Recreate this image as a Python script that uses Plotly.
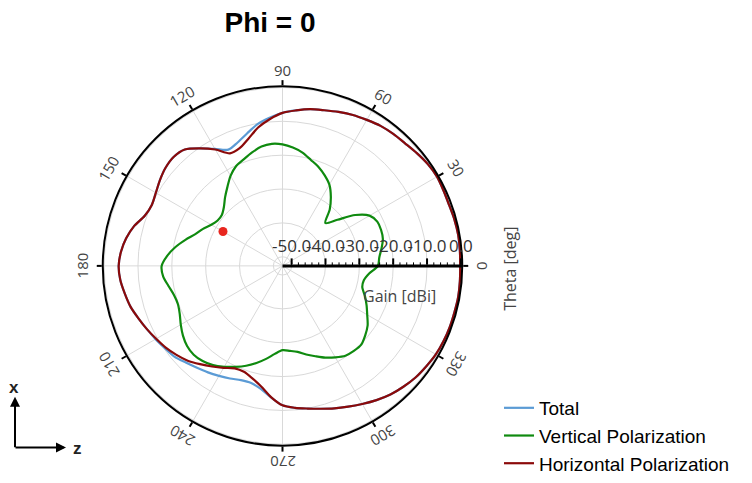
import math
import plotly.graph_objects as go

# ---------------- data ----------------
theta_deg = list(range(0, 360, 5))

horizontal_db = [
    -0.2, -0.1, 0.0, -0.1, -0.3, -0.2, 0.0, -0.3, -0.9, -1.5,      # 0-45
    -1.8, -2.2, -2.9, -3.5, -4.3, -5.1, -5.7, -6.6, -7.5, -9.2,     # 50-95
    -11.2, -13.8, -15.7, -16.0, -13.0, -10.3, -7.8, -7.2, -7.6, -8.5,  # 100-145
    -9.5, -10.1, -9.4, -7.3, -5.8, -4.8, -4.3, -4.6, -5.4, -6.2,    # 150-195
    -7.4, -8.5, -9.6, -10.6, -11.8, -13.1, -14.8, -16.4, -17.9, -19.3,  # 200-245
    -19.4, -18.3, -16.5, -13.8, -11.5, -10.6, -9.9, -9.0, -7.9, -6.8,  # 250-295
    -5.6, -4.3, -3.1, -2.2, -1.4, -0.9, -0.4, -0.2, -0.1, -0.1,     # 300-345
    0.0, -0.1,                                                       # 350-355
]

total_db = [
    -0.2, -0.1, 0.0, -0.1, -0.3, -0.2, 0.0, -0.3, -0.9, -1.5,
    -1.8, -2.2, -2.9, -3.5, -4.3, -5.1, -5.7, -6.6, -7.5, -8.8,
    -10.2, -12.2, -13.9, -14.8, -12.8, -10.3, -7.8, -7.2, -7.6, -8.5,
    -9.5, -10.1, -9.4, -7.3, -5.8, -4.8, -4.3, -4.6, -5.4, -6.2,
    -7.4, -8.5, -9.4, -10.3, -11.0, -12.3, -13.4, -14.3, -15.2, -16.0,
    -16.8, -16.9, -15.8, -13.7, -11.5, -10.6, -9.9, -9.0, -7.9, -6.8,
    -5.6, -4.3, -3.1, -2.2, -1.4, -0.9, -0.4, -0.2, -0.1, -0.1,
    0.0, -0.1,
]

vertical_db = [
    -24.5, -24.0, -23.0, -22.0, -21.7, -21.8, -23.0, -26.5, -31.5, -34.8,  # 0-45
    -31.0, -27.8, -25.0, -23.2, -21.6, -20.3, -18.7, -17.6, -16.8, -16.5,  # 50-95
    -16.9, -18.0, -19.2, -20.2, -22.0, -24.3, -26.3, -28.2, -29.3, -29.3,  # 100-145
    -28.4, -26.8, -25.3, -23.0, -20.6, -18.5, -17.0, -17.3, -18.5, -19.5,  # 150-195
    -19.8, -19.2, -18.0, -16.8, -15.9, -15.6, -16.0, -16.9, -18.3, -19.8,  # 200-245
    -21.3, -23.0, -24.8, -26.6, -27.8, -27.5, -26.9, -25.6, -24.3, -22.8,  # 250-295
    -21.5, -20.3, -19.9, -19.8, -20.8, -22.0, -23.8, -25.3, -26.8, -28.3,  # 300-345
    -28.3, -27.0,                                                          # 350-355
]

marker_theta = [150]
marker_db = [-32.4]

radial_ticks = [-50, -40, -30, -20, -10, 0]
radial_tick_text = ["-50.0", "-40.0", "-30.0", "-20.0", "-10.0", "0.0"]
radial_minor = list(range(-50, 1, 2))
angular_ticks = list(range(0, 360, 30))

series_names = ["Total", "Vertical Polarization", "Horizontal Polarization"]
series_colors = ["#5b9bd5", "#0f8a0f", "#8b0a0a"]

# ---------------- layout geometry ----------------
# the page places the figure 8px in from the left edge
OFF_X, OFF_Y = 8, 4
W, H = 752 - OFF_X, 483 - 8
CX, CY, R = 282.5 - OFF_X, 268.0 - OFF_Y, 184.0
dom_x = [(CX - R) / W, (CX + R) / W]
dom_y = [1 - (CY + R) / H, 1 - (CY - R) / H]
r_range = [-52.7, 0.4]


def px_x(x):
    return (x - OFF_X) / W


def px_y(y):
    return 1 - (y - OFF_Y) / H


def closed(vals):
    return list(vals) + [vals[0]]


th_closed = closed(theta_deg)

fig = go.Figure()
for name, vals, col in zip(series_names, [total_db, vertical_db, horizontal_db], series_colors):
    fig.add_trace(go.Scatterpolar(
        r=closed(vals), theta=th_closed, mode="lines", name=name,
        line=dict(color=col, width=2.2, shape="spline", smoothing=0.8),
        subplot="polar",
    ))

fig.add_trace(go.Scatterpolar(
    r=marker_db, theta=marker_theta, mode="markers", showlegend=False,
    marker=dict(color="#e8261f", size=9), subplot="polar",
))

# overlay subplot only for minor radial ticks
fig.add_trace(go.Scatterpolar(r=[], theta=[], mode="lines", showlegend=False,
                              subplot="polar2", hoverinfo="skip"))

font_ui = "Open Sans, DejaVu Sans, sans-serif"
font_arial = "Liberation Sans, Arial, sans-serif"

fig.update_layout(
    width=W, height=H,
    margin=dict(l=0, r=0, t=0, b=0),
    paper_bgcolor="white",
    title=dict(text="Phi = 0", x=px_x(270), y=px_y(18), xanchor="center", yanchor="middle",
               font=dict(family=font_arial, size=28, color="black", weight="bold")),
    polar=dict(
        domain=dict(x=dom_x, y=dom_y),
        bgcolor="rgba(0,0,0,0)",
        hole=0,
        radialaxis=dict(
            range=r_range, angle=0, side="counterclockwise",
            tickvals=radial_ticks, ticktext=radial_tick_text,
            ticks="outside", ticklen=6, tickwidth=1.5, tickcolor="black",
            showline=True, linecolor="black", linewidth=3,
            showgrid=True, gridcolor="#d9d9d9", gridwidth=1,
            tickfont=dict(family=font_ui, size=17, color="#333333"),
            tickangle=0,
        ),
        angularaxis=dict(
            rotation=0, direction="counterclockwise",
            tickvals=angular_ticks, showticklabels=False,
            ticks="outside", ticklen=5, tickwidth=1.5, tickcolor="black",
            showline=True, linecolor="black", linewidth=2,
            showgrid=True, gridcolor="#d9d9d9", gridwidth=1,
        ),
    ),
    polar2=dict(
        domain=dict(x=dom_x, y=dom_y),
        bgcolor="rgba(0,0,0,0)",
        hole=0,
        radialaxis=dict(
            range=r_range, angle=0, side="counterclockwise",
            tickvals=radial_minor, showticklabels=False,
            ticks="outside", ticklen=3, tickwidth=1, tickcolor="black",
            showline=False, showgrid=False,
        ),
        angularaxis=dict(visible=False, showgrid=False, showline=False),
    ),
    legend=dict(
        x=px_x(499), y=px_y(394), xanchor="left", yanchor="top",
        font=dict(family=font_arial, size=19, color="black"),
        bgcolor="rgba(0,0,0,0)", tracegroupgap=0,
    ),
    showlegend=True,
)

annotations = []
# angular tick labels, rotated tangentially
LR = 201.0
for a in angular_ticks:
    rad = math.radians(a)
    px = 282.5 + LR * math.cos(rad)
    py = 268.0 - LR * math.sin(rad)
    annotations.append(dict(
        x=px_x(px), y=px_y(py), xref="paper", yref="paper",
        text=str(a), showarrow=False, textangle=90 - a,
        xanchor="center", yanchor="middle",
        font=dict(family=font_ui, size=15, color="#444444"),
    ))

annotations.append(dict(x=px_x(399), y=px_y(299), xref="paper", yref="paper",
                        text="Gain [dBi]", showarrow=False, xanchor="center", yanchor="middle",
                        font=dict(family=font_ui, size=16, color="#444444")))
annotations.append(dict(x=px_x(510), y=px_y(271), xref="paper", yref="paper",
                        text="Theta [deg]", showarrow=False, textangle=-90,
                        xanchor="center", yanchor="middle",
                        font=dict(family=font_ui, size=16, color="#444444")))

# coordinate-system indicator
annotations.append(dict(x=px_x(15), y=px_y(402), xref="paper", yref="paper",
                        ax=0, ay=52, text="", showarrow=True, arrowhead=2,
                        arrowsize=1, arrowwidth=2, arrowcolor="black"))
annotations.append(dict(x=px_x(66), y=px_y(454), xref="paper", yref="paper",
                        ax=-52, ay=0, text="", showarrow=True, arrowhead=2,
                        arrowsize=1, arrowwidth=2, arrowcolor="black"))
annotations.append(dict(x=px_x(14), y=px_y(392), xref="paper", yref="paper",
                        text="x", showarrow=False, xanchor="center", yanchor="middle",
                        font=dict(family=font_arial, size=17, color="#222222", weight="bold")))
annotations.append(dict(x=px_x(77), y=px_y(455), xref="paper", yref="paper",
                        text="z", showarrow=False, xanchor="center", yanchor="middle",
                        font=dict(family=font_arial, size=17, color="#222222", weight="bold")))

fig.update_layout(annotations=annotations)

fig.write_html("out.html")
